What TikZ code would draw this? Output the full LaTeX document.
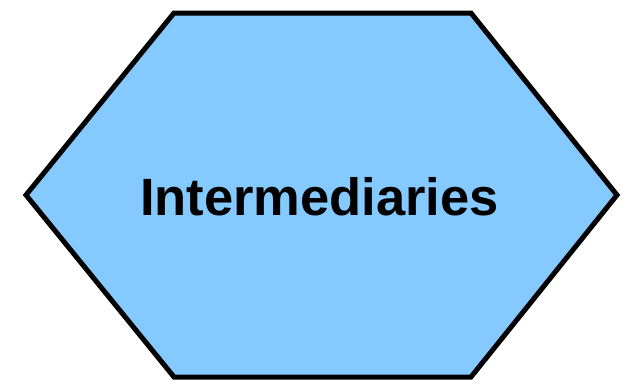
\documentclass[tikz,border=0pt]{standalone}
\usepackage{fontspec}
\setmainfont{Liberation Sans}
\definecolor{hexfill}{HTML}{84CAFF}
\begin{document}
\begin{tikzpicture}[x=1pt,y=-1pt,
  hexshape/.style={draw=black,fill=hexfill,line width=5pt,line join=miter},
  hexlabel/.style={font=\fontsize{52.5}{60}\selectfont\bfseries,inner sep=0pt,anchor=base}]
\useasboundingbox (0,0) rectangle (629,389);
\coordinate (tl) at (174,13);
\coordinate (tr) at (471,13);
\coordinate (r) at (617,195);
\coordinate (br) at (471,377);
\coordinate (bl) at (174,377);
\coordinate (l) at (26,195);
\draw[hexshape] (tl) -- (tr) -- (r) -- (br) -- (bl) -- (l) -- cycle;
\node[hexlabel] (lab) at (319.5,215) {Intermediaries};
\end{tikzpicture}
\end{document}
